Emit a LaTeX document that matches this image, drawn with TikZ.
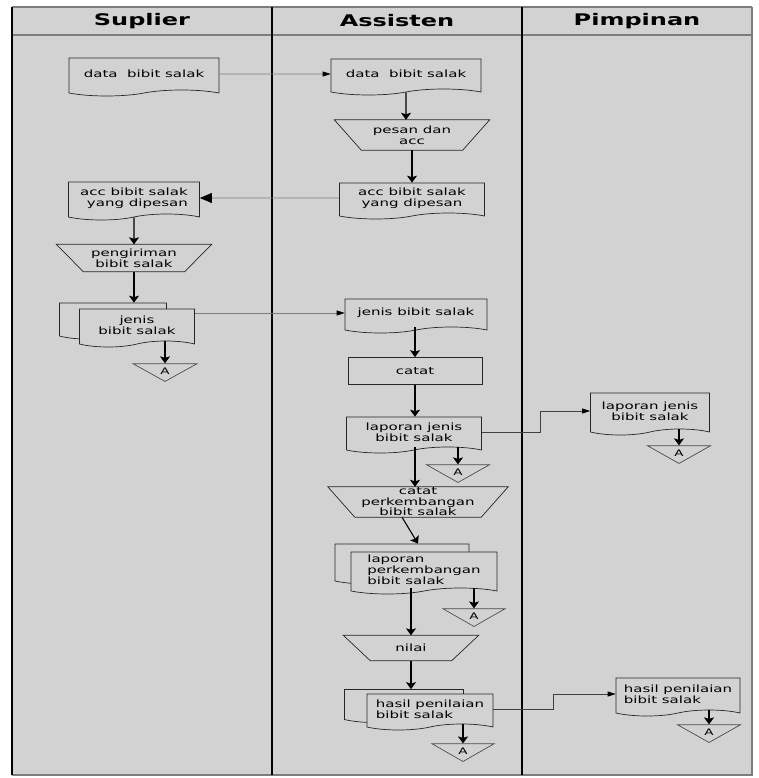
\documentclass[tikz,border=0pt]{standalone}
\usepackage{fontspec}
\setmainfont[FakeStretch=1.5]{DejaVu Sans}
\usetikzlibrary{arrows.meta,positioning,shapes.geometric,shapes.symbols}

\definecolor{lanebg}{RGB}{210,210,210}
\definecolor{edgegray}{RGB}{125,125,125}

\begin{document}
\begin{tikzpicture}[
  x=1pt, y=-1pt,
  mslant/.store in=\mslant, mslant=27pt,
  doc/.style={tape, tape bend top=none, tape bend bottom=in and out, tape bend height=6pt,
    draw=black!85, fill=lanebg, line width=0.7pt, align=center, inner sep=1pt,
    font=\fontsize{10}{11}\selectfont},
  manline/.style={draw=black!85, line width=0.7pt},
  manop/.style={rectangle, align=center, inner sep=0pt, font=\fontsize{10}{11}\selectfont,
    append after command={\pgfextra{\draw[manline] (\tikzlastnode.north west)
      -- (\tikzlastnode.north east) -- ([xshift=-\mslant]\tikzlastnode.south east)
      -- ([xshift=\mslant]\tikzlastnode.south west) -- cycle;}}},
  proc/.style={rectangle, draw=black!85, fill=lanebg, line width=0.7pt,
    font=\fontsize{10}{11}\selectfont},
  offpage/.style={isosceles triangle, isosceles triangle stretches, shape border rotate=-90,
    draw=black!70, line width=0.7pt, inner sep=0pt, font=\fontsize{9}{9}\selectfont},
  flow/.style={-{Stealth[length=7pt,width=10pt,inset=1.5pt]}, line width=1.1pt},
  xflow/.style={-{Triangle[length=8pt,width=5pt,black]}, draw=edgegray, line width=0.7pt},
  lane/.style={font=\fontsize{16}{18}\selectfont\bfseries}
]
  \useasboundingbox (0,0) rectangle (758,778);
  % swimlanes
  \fill[white] (0,0) rectangle (758,778);
  \fill[lanebg] (12,7) rectangle (752,775);
  \draw[edgegray, line width=1.5pt] (12,7) -- (752,7) (12,35) -- (752,35)
    (752,7) -- (752,775) -- (12,775);
  \draw[line width=1.2pt] (12,7) -- (12,775) (272,7) -- (272,775) (522,7) -- (522,775);
  \node[lane] (hsup) at (142,21) {Suplier};
  \node[lane] (has) at (397,21) {Assisten};
  \node[lane] (hpim) at (637,21) {Pimpinan};

  % Suplier
  \node[doc, minimum width=150pt, minimum height=38pt] (sdata) at (144,74) {data\ \ bibit salak};
  \node[doc, minimum width=131pt, minimum height=38pt, align=right] (sacc) at (134,198) {acc bibit salak\\yang dipesan};
  \node[manop, minimum width=155pt, minimum height=27pt, mslant=26pt] (skirim) at (134,258) {pengiriman\\bibit salak};
  \node[doc, minimum width=107pt, minimum height=36pt] (sjenisb) at (113,318) {};
  \node[doc, minimum width=115pt, minimum height=38pt] (sjenis) at (137,325) {jenis\\bibit salak};
  \node[offpage, minimum width=64pt, minimum height=15pt] (sa) at (165,371) {A};

  % Assisten
  \node[doc, minimum width=150pt, minimum height=36pt] (adata) at (406,74) {data\ \ bibit salak};
  \node[manop, minimum width=155pt, minimum height=30pt, mslant=29pt] (apesan) at (412,135) {pesan dan\\acc};
  \node[doc, minimum width=145pt, minimum height=36pt] (aacc) at (412,198) {acc bibit salak\\yang dipesan};
  \node[doc, minimum width=142pt, minimum height=34pt] (ajenis) at (416,313) {jenis bibit salak};
  \node[proc, minimum width=134pt, minimum height=27pt] (acatat) at (415,371) {catat};
  \node[doc, minimum width=135pt, minimum height=36pt] (alap) at (414,432) {laporan jenis\\bibit salak};
  \node[offpage, minimum width=63pt, minimum height=12pt] (aa1) at (458,472) {A};
  \node[manop, minimum width=180pt, minimum height=30pt, mslant=34pt,
    font=\fontsize{10}{10.5}\selectfont] (acatatp) at (418,502) {catat\\perkembangan\\bibit salak};
  \node[doc, minimum width=134pt, minimum height=40pt] (alappb) at (402,561) {};
  \node[doc, minimum width=146pt, minimum height=42pt, align=left] (alapp) at (424,570) {laporan\\perkembangan\\bibit salak};
  \node[offpage, minimum width=62pt, minimum height=14pt] (aa2) at (474,616) {A};
  \node[manop, minimum width=135pt, minimum height=25pt, mslant=26pt] (anilai) at (411,648) {nilai};
  \node[doc, minimum width=119pt, minimum height=33pt] (ahasilb) at (404,703) {};
  \node[doc, minimum width=126pt, minimum height=36pt, align=left] (ahasil) at (430,709) {hasil penilaian\\bibit salak};
  \node[offpage, minimum width=62pt, minimum height=16pt] (aa3) at (463,751) {A};

  % Pimpinan
  \node[doc, minimum width=119pt, minimum height=42pt] (plap) at (650,411) {laporan jenis\\bibit salak};
  \node[offpage, minimum width=63pt, minimum height=13pt] (pa1) at (679,453) {A};
  \node[doc, minimum width=124pt, minimum height=38pt, align=left] (phasil) at (678,694) {hasil penilaian\\bibit salak};
  \node[offpage, minimum width=63pt, minimum height=17pt] (pa2) at (709,732) {A};

  % arus data
  \draw[xflow] (sdata) -- (adata);
  \draw[flow] (adata) -- (adata |- apesan.north);
  \draw[flow] (apesan) -- (apesan |- aacc.north);
  \draw[xflow, -{Triangle[length=12pt,width=10pt,black]}] (aacc) -- (sacc);
  \draw[flow] (sacc) -- (sacc |- skirim.north);
  \draw[flow] (skirim) -- (skirim |- sjenisb.north);
  \draw[flow] (sa.north |- sjenis.south) -- (sa.north);
  \draw[xflow] (ajenis.west -| sjenis.east) -- (ajenis.west);
  \draw[flow] (acatat |- ajenis.south) -- (acatat);
  \draw[flow] (acatat) -- (acatat |- alap.north);
  \draw[flow] (aa1.north |- alap.south) -- (aa1.north);
  \draw[xflow, draw=black!75] (alap.east) -- ++(58,0) |- (plap.west);
  \draw[flow] (pa1.north |- plap.south) -- (pa1.north);
  \draw[flow] (acatat |- alap.south) -- (acatat |- acatatp.north);
  \draw[flow] (acatatp.south -| alappb) -- (alappb.north -| acatatp.south);
  \draw[flow] (aa2.north |- alapp.south) -- (aa2.north);
  \draw[flow] (anilai.north |- alapp.south) -- (anilai.north);
  \draw[flow] (anilai) -- (anilai |- ahasilb.north);
  \draw[flow] (aa3.north |- ahasil.south) -- (aa3.north);
  \draw[xflow, draw=black!75] (ahasil.east) -- ++(60,0) |- (phasil.west);
  \draw[flow] (pa2.north |- phasil.south) -- (pa2.north);
\end{tikzpicture}
\end{document}
